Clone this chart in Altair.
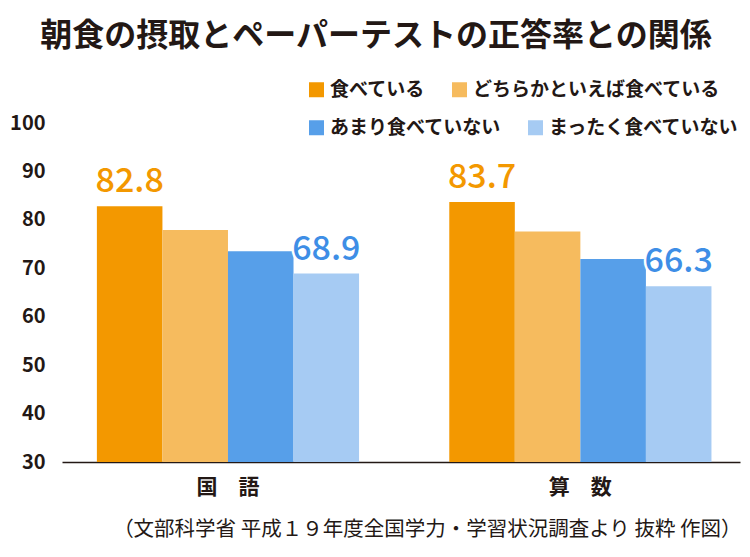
import altair as alt
import pandas as pd

FONT = "Noto Sans CJK JP"
DARK = "#231815"

title_text = "朝食の摂取とペーパーテストの正答率との関係"
source_text = "（文部科学省 平成１９年度全国学力・学習状況調査より 抜粋 作図）"

subjects = ["国　語", "算　数"]
categories = ["食べている", "どちらかといえば食べている", "あまり食べていない", "まったく食べていない"]
kokugo = [82.8, 77.9, 73.5, 68.9]
sansu = [83.7, 77.6, 71.9, 66.3]
y_ticks = [30, 40, 50, 60, 70, 80, 90, 100]

bar_colors = ["#F39800", "#F6BB5E", "#579FE9", "#A6CBF3"]
label_orange = "#F39800"
label_blue = "#3E8EE6"

rows = []
for subj, vals in zip(subjects, [kokugo, sansu]):
    for c, v in zip(categories, vals):
        rows.append({"subject": subj, "cat": c, "value": v})
df = pd.DataFrame(rows)

x_enc = alt.X(
    "subject:N",
    sort=subjects,
    scale=alt.Scale(paddingInner=0.256, paddingOuter=0.09, align=0.55),
    axis=alt.Axis(
        title=source_text,
        labelAngle=0,
        ticks=False,
        domainColor=DARK,
        domainWidth=1.5,
        labelFont=FONT,
        labelFontSize=21,
        labelFontWeight="bold",
        labelColor=DARK,
        labelPadding=14,
        titleFont=FONT,
        titleFontSize=20.5,
        titleFontWeight="normal",
        titleColor=DARK,
        titleAlign="right",
        titleAnchor="end",
        titleX=679,
        titleY=67,
        titleBaseline="middle",
        titleLimit=700,
    ),
)
xo_enc = alt.XOffset("cat:N", sort=categories,
                     scale=alt.Scale(domain=categories, paddingInner=0, paddingOuter=0))
y_enc = alt.Y(
    "value:Q",
    scale=alt.Scale(domain=[30, 100], zero=False, nice=False),
    axis=alt.Axis(
        values=y_ticks,
        title=None,
        ticks=False,
        domain=False,
        grid=False,
        labelFont=FONT,
        labelFontSize=20,
        labelFontWeight="bold",
        labelColor=DARK,
        labelPadding=17,
    ),
)


def legend_for(ly):
    return alt.Legend(
        title=None,
        orient="none",
        direction="horizontal",
        legendX=245,
        legendY=ly,
        columnPadding=24,
        symbolType="square",
        symbolSize=225,
        symbolStrokeWidth=0,
        symbolOpacity=1,
        labelFont=FONT,
        labelFontSize=19,
        labelFontWeight="bold",
        labelColor=DARK,
        labelOffset=4,
        labelLimit=400,
    )


def bar_layer(cats, cols, ly):
    return alt.Chart(df).transform_filter(
        alt.FieldOneOfPredicate(field="cat", oneOf=cats)
    ).mark_bar().encode(
        x=x_enc,
        xOffset=xo_enc,
        y=y_enc,
        y2=alt.datum(30),
        color=alt.Color(
            "cat:N",
            sort=cats,
            scale=alt.Scale(domain=cats, range=cols),
            legend=legend_for(ly),
        ),
    )


bars_eat = bar_layer(categories[:2], bar_colors[:2], -43)
bars_skip = bar_layer(categories[2:], bar_colors[2:], -5)

label_filter = alt.FieldOneOfPredicate(field="cat", oneOf=[categories[0], categories[-1]])

halo = alt.Chart(df).transform_filter(label_filter).mark_text(
    font=FONT, fontSize=34, fontWeight=500, baseline="alphabetic", dy=-14,
    fill="white", stroke="white", strokeWidth=5, strokeJoin="round",
).encode(x=x_enc, xOffset=xo_enc, y=y_enc, text=alt.Text("value:Q", format=".1f"))

labels = alt.Chart(df).transform_filter(label_filter).mark_text(
    font=FONT, fontSize=34, fontWeight=500, baseline="alphabetic", dy=-14,
).encode(
    x=x_enc, xOffset=xo_enc, y=y_enc,
    text=alt.Text("value:Q", format=".1f"),
    color=alt.condition(alt.datum.cat == categories[0], alt.value(label_orange), alt.value(label_blue)),
)

chart = alt.layer(bars_eat, bars_skip, halo, labels).resolve_scale(
    color="independent"
).properties(
    width=678,
    height=339,
    autosize="none",
    padding={"left": 54, "top": 115, "right": 2, "bottom": 87},
    title=alt.TitleParams(
        text=title_text,
        font=FONT,
        fontSize=32,
        fontWeight="bold",
        color=DARK,
        anchor="middle",
        dx=-25,
        offset=27,
    ),
).configure_view(stroke=None)

chart.save("out.html", embed_options={"renderer": "svg", "actions": False})
